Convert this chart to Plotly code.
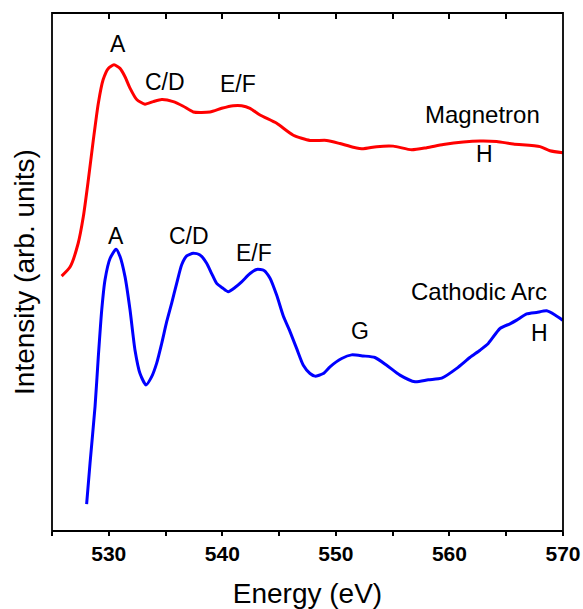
import plotly.graph_objects as go

# O K-edge absorption spectra (energy in eV, intensity in arbitrary units, curves offset)
magnetron_energy = [525.85, 526.6, 527.3, 527.76, 528.2, 528.64, 529.08, 529.5, 529.96, 530.46,
                    530.99, 531.43, 531.87, 532.46, 533.19, 533.92, 534.66, 535.68, 536.56, 537.44,
                    538.91, 539.94, 540.96, 541.7, 542.44, 543.32, 544.79, 546.25, 547.72, 549.19,
                    550.36, 551.53, 552.41, 553.59, 555.05, 556.67, 558.0, 559.46, 561.22, 562.69,
                    564.16, 565.62, 567.97, 568.85, 570.0]
magnetron_intensity = [4.92, 5.10, 5.55, 6.07, 6.78, 7.55, 8.26, 8.71, 8.93, 9.00,
                       8.93, 8.77, 8.55, 8.33, 8.24, 8.29, 8.33, 8.29, 8.20, 8.09,
                       8.09, 8.16, 8.21, 8.21, 8.16, 8.03, 7.87, 7.64, 7.54, 7.54,
                       7.48, 7.41, 7.38, 7.42, 7.43, 7.36, 7.40, 7.46, 7.51, 7.53,
                       7.52, 7.47, 7.42, 7.34, 7.30]

arc_energy = [528.05, 528.35, 528.79, 529.08, 529.38, 529.67, 530.11, 530.64, 530.99, 531.43,
              531.87, 532.31, 532.75, 533.28, 533.78, 534.22, 534.66, 535.1, 535.54, 535.98,
              536.42, 536.86, 537.44, 538.03, 538.62, 539.06, 539.5, 540.03, 540.52, 541.11,
              541.7, 542.44, 543.03, 543.67, 544.2, 544.79, 545.37, 545.96, 546.55, 547.13,
              547.72, 548.16, 548.89, 549.48, 550.51, 551.39, 552.41, 553.44, 554.47, 555.64,
              556.97, 558.14, 559.32, 560.64, 561.8, 562.69, 563.42, 564.45, 565.33, 565.92,
              566.8, 567.68, 568.56, 569.3, 569.97]
arc_intensity = [0.52, 1.31, 2.40, 3.37, 4.27, 4.85, 5.26, 5.44, 5.30, 4.91,
                 4.27, 3.49, 3.04, 2.82, 2.98, 3.24, 3.62, 4.04, 4.40, 4.78,
                 5.14, 5.31, 5.36, 5.33, 5.17, 4.97, 4.78, 4.69, 4.62, 4.70,
                 4.81, 4.97, 5.05, 5.03, 4.88, 4.55, 4.15, 3.85, 3.52, 3.20,
                 3.04, 2.99, 3.04, 3.17, 3.33, 3.40, 3.38, 3.35, 3.20, 3.01,
                 2.88, 2.92, 2.95, 3.14, 3.35, 3.49, 3.62, 3.91, 4.00, 4.07,
                 4.19, 4.22, 4.25, 4.17, 4.07]

# Peak labels
label_text = ["A", "C/D", "E/F", "Magnetron", "H",
              "A", "C/D", "E/F", "Cathodic Arc", "G", "H"]
label_energy = [530.81, 534.95, 541.38, 562.93, 563.13,
                530.64, 537.07, 542.79, 562.56, 552.12, 567.97]
label_intensity = [9.41, 8.66, 8.63, 8.05, 7.27,
                   5.70, 5.70, 5.37, 4.63, 3.86, 3.83]
label_size = [23, 23, 23, 24, 23,
              23, 23, 23, 24, 23, 23]

FONT = "Arial, 'Liberation Sans', sans-serif"
AXW = 1.8
E_RANGE = [525, 570]
I_RANGE = [0, 10]

fig = go.Figure()
fig.add_trace(go.Scatter(x=magnetron_energy, y=magnetron_intensity, mode="lines",
                         line=dict(color="#FF0000", width=3, shape="spline", smoothing=0.6),
                         showlegend=False, hoverinfo="skip"))
# second spectrum sits on the top/right axis pair (identical ranges), which carries the top ticks
fig.add_trace(go.Scatter(x=arc_energy, y=arc_intensity, mode="lines", xaxis="x2", yaxis="y2",
                         line=dict(color="#0000FF", width=3, shape="spline", smoothing=0.6),
                         showlegend=False, hoverinfo="skip"))

for t, xe, yi, fs in zip(label_text, label_energy, label_intensity, label_size):
    fig.add_annotation(x=xe, y=yi, text=t, showarrow=False, xanchor="center", yanchor="middle",
                       font=dict(family=FONT, size=fs, color="#000000"))

# plot frame
fig.add_shape(type="rect", xref="paper", yref="paper", x0=0, x1=1, y0=0, y1=1,
              line=dict(color="black", width=AXW), fillcolor="rgba(0,0,0,0)", layer="above")

fig.update_layout(
    width=583, height=609,
    margin=dict(l=52, r=20, t=13, b=78, autoexpand=False),
    paper_bgcolor="white", plot_bgcolor="white",
    xaxis=dict(range=E_RANGE, dtick=10, tick0=530, ticks="outside", ticklen=4, tickwidth=AXW,
               tickcolor="black", showline=False,
               showgrid=False, zeroline=False, automargin=False,
               minor=dict(dtick=5, tick0=525, ticks="outside", ticklen=4, tickwidth=AXW,
                          tickcolor="black", showgrid=False),
               tickfont=dict(family=FONT, size=21, color="black", weight="bold"),
               title=dict(text="Energy (eV)", font=dict(family=FONT, size=28, color="black"),
                          standoff=20)),
    xaxis2=dict(range=E_RANGE, overlaying="x", side="top", anchor="y2", dtick=5, tick0=525,
                ticks="inside", ticklen=6, tickwidth=AXW, tickcolor="black",
                showticklabels=False, showgrid=False, zeroline=False,
                showline=False, automargin=False),
    yaxis=dict(range=I_RANGE, showticklabels=False, ticks="", showgrid=False, zeroline=False,
               showline=False, automargin=False,
               title=dict(text="Intensity (arb. units)",
                          font=dict(family=FONT, size=28, color="black"), standoff=8)),
    yaxis2=dict(range=I_RANGE, overlaying="y", side="right", anchor="x2",
                showticklabels=False, ticks="", showgrid=False, zeroline=False,
                showline=False, automargin=False),
)

fig.write_html("out.html")
